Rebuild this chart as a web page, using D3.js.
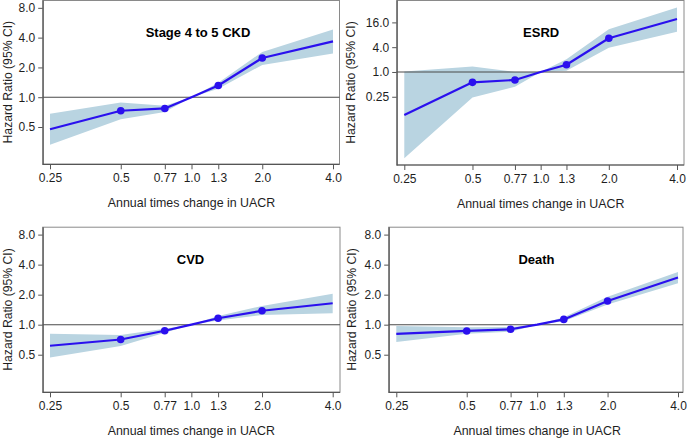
<!DOCTYPE html>
<html>
<head>
<meta charset="utf-8">
<script src="https://cdn.jsdelivr.net/npm/d3@7"></script>
<style>
  html, body { margin: 0; padding: 0; background: #fff; }
  svg { display: block; font-family: "Liberation Sans", Arial, sans-serif; }
</style>
</head>
<body>
<svg id="chart" width="687" height="440"></svg>
<script>
// ---------- data ----------
const xValues = [0.25, 0.5, 0.77, 1.0, 1.3, 2.0, 4.0];
const xTickLabels = ["0.25", "0.5", "0.77", "1.0", "1.3", "2.0", "4.0"];
const dotIndex = [1, 2, 4, 5];

const titles = ["Stage 4 to 5 CKD", "ESRD", "CVD", "Death"];

const ckdHR = [0.475, 0.73, 0.77, 1.0, 1.315, 2.49, 3.67];
const ckdLo = [0.33, 0.60, 0.71, 1.0, 1.22, 2.12, 2.77];
const ckdHi = [0.68, 0.886, 0.82, 1.0, 1.40, 2.87, 4.82];

const esrdHR = [0.09, 0.56, 0.64, 1.0, 1.50, 6.6, 19.3];
const esrdLo = [0.008, 0.24, 0.44, 1.0, 1.07, 3.9, 9.5];
const esrdHi = [1.02, 1.35, 1.0, 1.0, 2.03, 10.9, 37];

const cvdHR = [0.615, 0.71, 0.87, 1.0, 1.16, 1.38, 1.64];
const cvdLo = [0.47, 0.61, 0.83, 1.0, 1.10, 1.25, 1.30];
const cvdHi = [0.81, 0.79, 0.91, 1.0, 1.22, 1.54, 2.04];

const deathHR = [0.81, 0.865, 0.90, 1.0, 1.13, 1.73, 2.97];
const deathLo = [0.67, 0.81, 0.85, 1.0, 1.08, 1.59, 2.61];
const deathHi = [0.97, 0.94, 0.95, 1.0, 1.19, 1.91, 3.37];

const yTicksA = [0.5, 1, 2, 4, 8];
const yTickLabelsA = ["0.5", "1.0", "2.0", "4.0", "8.0"];
const yTicksB = [0.25, 1, 4, 16];
const yTickLabelsB = ["0.25", "1.0", "4.0", "16.0"];

const yDomainA = [0.21, 9.6];
const yDomainB = [0.0055, 56];

const xLabel = "Annual times change in UACR";
const yLabel = "Hazard Ratio (95% CI)";

// ---------- layout ----------
const panels = [
  { title: titles[0], hr: ckdHR, lo: ckdLo, hi: ckdHi, yt: yTicksA, ytl: yTickLabelsA, yd: yDomainA,
    l: 42.7, t: 0, r: 339.5, b: 164.3, x0: 50, x1: 333, titleDx: 6.5, titleY: 32.5, ylx: 8 },
  { title: titles[1], hr: esrdHR, lo: esrdLo, hi: esrdHi, yt: yTicksB, ytl: yTickLabelsB, yd: yDomainB,
    l: 396.7, t: 0, r: 684, b: 165, x0: 404.3, x1: 677, titleDx: 0.5, titleY: 32.5, ylx: 351 },
  { title: titles[2], hr: cvdHR, lo: cvdLo, hi: cvdHi, yt: yTicksA, ytl: yTickLabelsA, yd: yDomainA,
    l: 42.7, t: 226.7, r: 340, b: 392.3, x0: 50, x1: 332.7, titleDx: -0.8, titleY: 259.5, ylx: 7.5 },
  { title: titles[3], hr: deathHR, lo: deathLo, hi: deathHi, yt: yTicksA, ytl: yTickLabelsA, yd: yDomainA,
    l: 388.7, t: 226.7, r: 683, b: 392.3, x0: 396.3, x1: 678, titleDx: -0.7, titleY: 259.5, ylx: 352 }
];

const svg = d3.select("#chart");
const bandColor = "#b9d4e1";
const lineColor = "#2a10ee";
const textColor = "#1e1e1e";

panels.forEach(p => {
  const g = svg.append("g");
  const x = d3.scaleLog().base(2).domain([xValues[0], xValues[xValues.length - 1]]).range([p.x0, p.x1]);
  const y = d3.scaleLog().base(2).domain(p.yd).range([p.b, p.t]);

  // plot border
  g.append("rect")
    .attr("x", p.l).attr("y", p.t + 0.5)
    .attr("width", p.r - p.l).attr("height", p.b - p.t - 0.5)
    .attr("fill", "none").attr("stroke", "#8a8a8a").attr("stroke-width", 1);

  const idx = d3.range(xValues.length);

  // CI band
  const area = d3.area()
    .x(i => x(xValues[i]))
    .y0(i => y(p.lo[i]))
    .y1(i => y(p.hi[i]));
  g.append("path").datum(idx).attr("d", area).attr("fill", bandColor).attr("stroke", "none");

  // reference line at 1
  g.append("line")
    .attr("x1", p.l).attr("x2", p.r)
    .attr("y1", y(1)).attr("y2", y(1))
    .attr("stroke", "#4a4a4a").attr("stroke-width", 1.1);

  // HR line
  const line = d3.line().x(i => x(xValues[i])).y(i => y(p.hr[i]));
  g.append("path").datum(idx).attr("d", line)
    .attr("fill", "none").attr("stroke", lineColor).attr("stroke-width", 2.2)
    .attr("stroke-linejoin", "round");

  // dots
  g.selectAll("circle.dot").data(dotIndex).enter().append("circle")
    .attr("class", "dot")
    .attr("cx", i => x(xValues[i])).attr("cy", i => y(p.hr[i]))
    .attr("r", 3.8).attr("fill", lineColor);

  // x axis
  const xAxis = d3.axisBottom(x)
    .tickValues(xValues)
    .tickFormat((d, i) => xTickLabels[i])
    .tickSize(5).tickSizeOuter(0).tickPadding(4);
  const gx = g.append("g").attr("transform", `translate(0,${p.b})`).call(xAxis);
  gx.select(".domain").remove();
  gx.append("line").attr("x1", p.l).attr("x2", p.r).attr("y1", 0).attr("y2", 0)
    .attr("stroke", "#555").attr("stroke-width", 1.2);
  gx.selectAll(".tick line").attr("stroke", "#555");
  gx.selectAll(".tick text").attr("fill", textColor).attr("font-size", 12)
    .attr("font-family", "'Liberation Sans', Arial, sans-serif");

  // y axis
  const yAxis = d3.axisLeft(y)
    .tickValues(p.yt)
    .tickFormat((d, i) => p.ytl[i])
    .tickSize(4.5).tickSizeOuter(0).tickPadding(3);
  const gy = g.append("g").attr("transform", `translate(${p.l},0)`).call(yAxis);
  gy.select(".domain").attr("stroke", "#555").attr("stroke-width", 1.2);
  gy.selectAll(".tick line").attr("stroke", "#555");
  gy.selectAll(".tick text").attr("fill", textColor).attr("font-size", 12)
    .attr("font-family", "'Liberation Sans', Arial, sans-serif");

  // panel title
  g.append("text")
    .attr("x", x(1) + p.titleDx).attr("y", p.titleY)
    .attr("text-anchor", "middle").attr("dominant-baseline", "central")
    .attr("font-weight", "bold").attr("font-size", 13).attr("fill", "#000")
    .text(p.title);

  // x label
  g.append("text")
    .attr("x", x(1)).attr("y", p.b + 38.5)
    .attr("text-anchor", "middle").attr("dominant-baseline", "central")
    .attr("font-size", 12.4).attr("fill", textColor)
    .text(xLabel);

  // y label
  const yc = (p.t + p.b) / 2;
  g.append("text")
    .attr("transform", `translate(${p.ylx},${yc}) rotate(-90)`)
    .attr("text-anchor", "middle").attr("dominant-baseline", "central")
    .attr("font-size", 12.2).attr("fill", textColor)
    .text(yLabel);
});
</script>
</body>
</html>
